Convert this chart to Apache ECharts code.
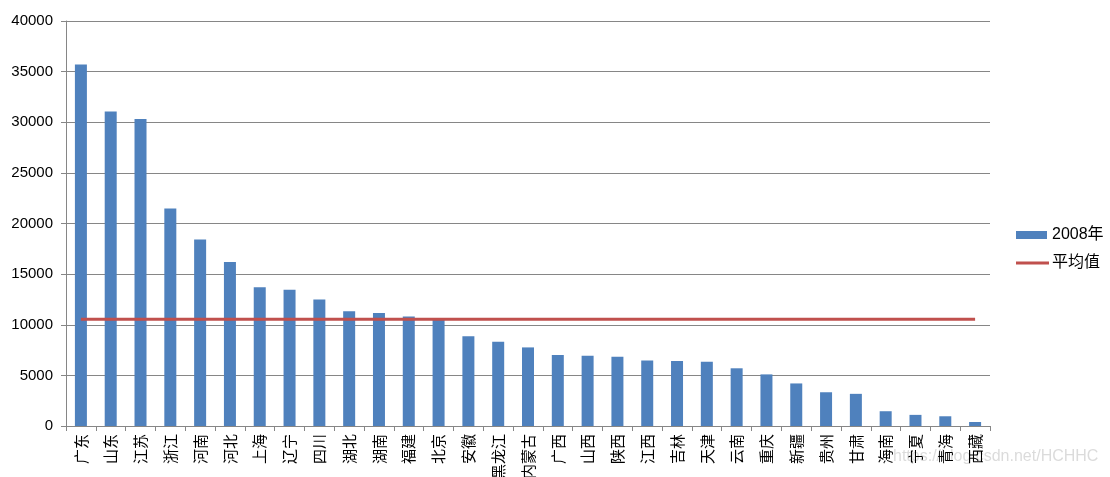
<!DOCTYPE html>
<html>
<head>
<meta charset="utf-8">
<script src="https://cdn.jsdelivr.net/npm/echarts@6/dist/echarts.min.js"></script>
<style>
html,body{margin:0;padding:0;background:#fff;}
#main{width:1110px;height:477px;}
</style>
</head>
<body>
<div id="main"></div>
<script>
const categories = ['广东','山东','江苏','浙江','河南','河北','上海','辽宁','四川','湖北','湖南','福建','北京','安徽','黑龙江','内蒙古','广西','山西','陕西','江西','吉林','天津','云南','重庆','新疆','贵州','甘肃','海南','宁夏','青海','西藏'];
const gdp2008 = [35696,31072,30313,21487,18408,16189,13698,13461,12506,11330,11157,10823,10488,8852,8310,7762,7021,6939,6851,6480,6424,6354,5700,5097,4203,3333,3176,1459,1099,961,395];
const average = [10550,10550,10550,10550,10550,10550,10550,10550,10550,10550,10550,10550,10550,10550,10550,10550,10550,10550,10550,10550,10550,10550,10550,10550,10550,10550,10550,10550,10550,10550,10550];
const yTicks = {min:0, max:40000, interval:5000};

const chart = echarts.init(document.getElementById('main'));
const axisColor = '#868686';
const baseFont = '"Liberation Sans","Noto Sans CJK SC",sans-serif';
chart.setOption({
  animation:false,
  textStyle:{fontFamily:baseFont},
  grid:{left:66,right:120,top:21,bottom:51,containLabel:false,outerBoundsMode:'none'},
  legend:[
    {
      orient:'vertical', left:1016, top:227, padding:0,
      itemWidth:31, itemHeight:8,
      textStyle:{fontSize:16,color:'#000',fontFamily:baseFont},
      data:[{name:'2008年',icon:'rect'}]
    },
    {
      orient:'vertical', left:1016, top:255, padding:0,
      itemWidth:33, itemHeight:3,
      textStyle:{fontSize:16,color:'#000',fontFamily:baseFont,padding:[0,0,0,-2]},
      data:[{name:'平均值',icon:'rect'}]
    }
  ],
  xAxis:{
    type:'category',
    data:categories,
    axisLine:{lineStyle:{color:axisColor,width:1}},
    axisTick:{show:true,length:5,lineStyle:{color:axisColor}},
    axisLabel:{interval:0,rotate:90,fontSize:15,color:'#000',margin:8,fontFamily:'"Noto Sans CJK SC",sans-serif'},
    splitLine:{show:false}
  },
  yAxis:{
    type:'value',
    min:yTicks.min, max:yTicks.max, interval:yTicks.interval,
    axisLine:{show:true,lineStyle:{color:axisColor,width:1}},
    axisTick:{show:true,length:5,lineStyle:{color:axisColor}},
    axisLabel:{fontSize:15,color:'#000',margin:13,formatter:function(v){return String(v);}},
    splitLine:{show:true,lineStyle:{color:axisColor,width:1}}
  },
  series:[
    {name:'2008年',type:'bar',data:gdp2008,barWidth:12,itemStyle:{color:'#4F81BD'}},
    {name:'平均值',type:'line',data:average,symbol:'none',lineStyle:{color:'#C0504D',width:3},itemStyle:{color:'#C0504D'}}
  ],
  graphic:[
    {type:'text',left:893,top:449,style:{text:'https://blog.csdn.net/HCHHC',fontSize:16,fill:'rgba(190,190,190,0.55)',fontFamily:'"Liberation Sans",sans-serif'}}
  ]
});
</script>
</body>
</html>
